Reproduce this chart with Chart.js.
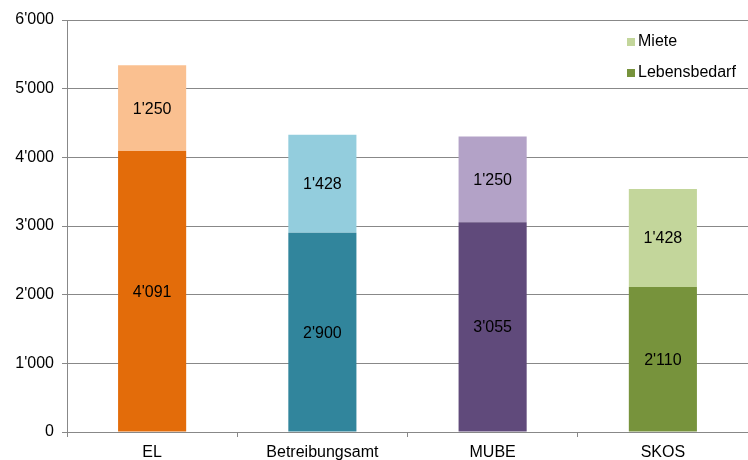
<!DOCTYPE html>
<html>
<head>
<meta charset="utf-8">
<script src="https://cdn.jsdelivr.net/npm/chart.js@4/dist/chart.umd.min.js"></script>
<style>
  html, body { margin: 0; padding: 0; background: #fff; }
  #wrap { width: 748px; height: 460px; }
</style>
</head>
<body>
<div id="wrap"><canvas id="grafico" width="748" height="460"></canvas></div>
<script>
// categorias y valores
var categorias = ["EL", "Betreibungsamt", "MUBE", "SKOS"];
var lebensbedarf = [4091, 2900, 3055, 2110];
var miete = [1250, 1428, 1250, 1428];
var ticksY = [0, 1000, 2000, 3000, 4000, 5000, 6000];

var coloresFuerte = ["#E36C0A", "#31859C", "#604A7B", "#77933C"];
var coloresClaro = ["#FAC090", "#93CDDD", "#B3A2C7", "#C3D69B"];

function formato(v) {
  return String(v).replace(/\B(?=(\d{3})+(?!\d))/g, "'");
}

var fuente = "'Liberation Sans', Arial, sans-serif";

// etiquetas dentro de cada segmento
var etiquetas = {
  id: "etiquetas",
  afterDatasetsDraw: function(chart) {
    var ctx = chart.ctx;
    ctx.save();
    ctx.font = "16px " + fuente;
    ctx.fillStyle = "#000";
    ctx.textAlign = "center";
    ctx.textBaseline = "middle";
    chart.data.datasets.forEach(function(ds, i) {
      chart.getDatasetMeta(i).data.forEach(function(bar, j) {
        var y = (bar.y + bar.base) / 2;
        ctx.fillText(formato(ds.data[j]), bar.x, y + 1);
      });
    });
    ctx.restore();
  }
};

// leyenda arriba a la derecha
var leyenda = {
  id: "leyenda",
  afterDraw: function(chart) {
    var ctx = chart.ctx;
    var items = [
      { t: "Miete", c: coloresClaro[3], y: 42 },
      { t: "Lebensbedarf", c: coloresFuerte[3], y: 73 }
    ];
    ctx.save();
    ctx.font = "16px " + fuente;
    ctx.textBaseline = "middle";
    ctx.textAlign = "left";
    items.forEach(function(it) {
      ctx.fillStyle = it.c;
      ctx.fillRect(627, it.y - 4, 8, 8);
      ctx.fillStyle = "#000";
      ctx.fillText(it.t, 638, it.y);
    });
    ctx.restore();
  }
};

new Chart(document.getElementById("grafico"), {
  type: "bar",
  data: {
    labels: categorias,
    datasets: [
      {
        label: "Lebensbedarf",
        data: lebensbedarf,
        backgroundColor: coloresFuerte,
        barPercentage: 0.4,
        categoryPercentage: 1
      },
      {
        label: "Miete",
        data: miete,
        backgroundColor: coloresClaro,
        barPercentage: 0.4,
        categoryPercentage: 1
      }
    ]
  },
  options: {
    responsive: false,
    animation: false,
    layout: { padding: { top: 20, right: 0, left: 0, bottom: 0 } },
    plugins: {
      legend: { display: false },
      tooltip: { enabled: false }
    },
    scales: {
      x: {
        stacked: true,
        grid: {
          offset: true,
          drawOnChartArea: false,
          drawTicks: true,
          tickLength: 5,
          color: "#888"
        },
        border: { color: "#888" },
        ticks: {
          color: "#000",
          font: { size: 16, family: fuente },
          padding: 6
        },
        afterFit: function(s) { s.height = 28; }
      },
      y: {
        stacked: true,
        min: 0,
        max: 6000,
        grid: { color: "#888", tickLength: 5 },
        border: { color: "#888" },
        afterBuildTicks: function(s) {
          s.ticks = ticksY.map(function(v) { return { value: v }; });
        },
        ticks: {
          color: "#000",
          font: { size: 16, family: fuente },
          padding: 8,
          callback: function(v) { return formato(v); }
        },
        afterFit: function(s) { s.width = 67; }
      }
    }
  },
  plugins: [etiquetas, leyenda]
});
</script>
</body>
</html>
